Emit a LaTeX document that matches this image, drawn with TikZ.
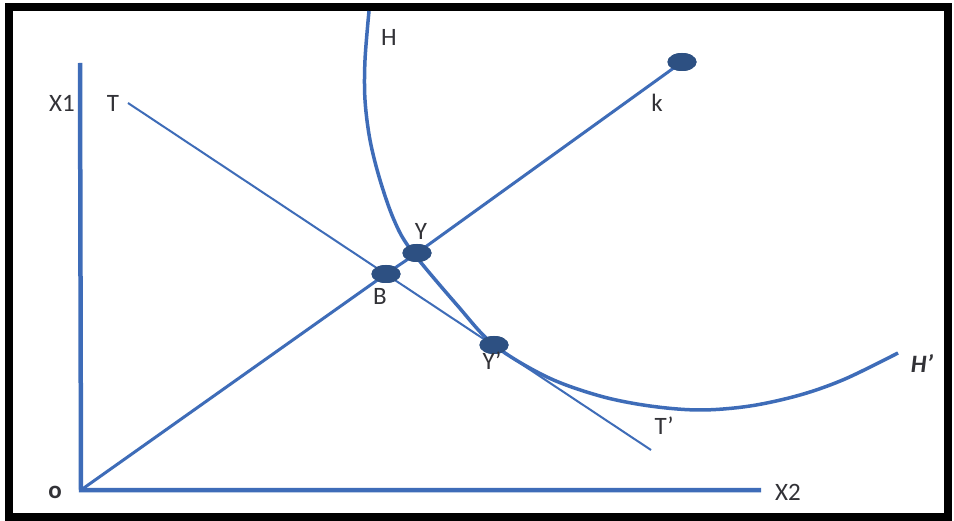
\documentclass[tikz,border=0pt]{standalone}
\usepackage{fontspec}
\setmainfont{Carlito}
\usetikzlibrary{shapes.geometric}
\definecolor{lineblue}{RGB}{62,108,184}
\definecolor{dotblue}{RGB}{45,80,130}
\definecolor{txt}{RGB}{50,50,55}
\begin{document}
\begin{tikzpicture}[x=1pt,y=-1pt,
  axis/.style={draw=lineblue,line width=4.5pt},
  ray/.style={draw=lineblue,line width=3pt},
  tline/.style={draw=lineblue,line width=2pt},
  curve/.style={draw=lineblue,line width=3.5pt},
  dot/.style={ellipse,fill=dotblue,minimum width=29pt,minimum height=18pt,inner sep=0pt},
  lbl/.style={text=txt,font=\fontsize{25}{28}\selectfont,inner sep=0pt}]
\useasboundingbox (0,0) rectangle (954,521);
\fill[black] (5,3) rectangle (952,521);
\fill[white] (13,11) rectangle (944,513);
% axes
\coordinate (O) at (81,490);
\coordinate (Ytop) at (80,63);
\coordinate (Xend) at (761,490);
\draw[axis] (Ytop) -- (O) -- (Xend);
% tangent line T--T'
\coordinate (Tstart) at (128,103);
\coordinate (Tend) at (651,450);
\draw[tline] (Tstart) -- (Tend);
% H curve
\draw[curve] plot[smooth,tension=0.55] coordinates {(369,11) (365,60) (365,100) (370,140) (380,180) (394,220) (411,250) (457,305) (494,345) (547,377) (600,396) (650,406) (700,410) (750,406) (800,395) (845,379) (898,353)};
% dots
\node[dot] (k) at (682,62) {};
\node[dot] (Y) at (417,253) {};
\node[dot] (B) at (386,274) {};
\node[dot] (Yp) at (494,345) {};
% ray
\draw[ray] (O) -- (B.center) -- (Y.center) -- (k.center);
\node[dot] at (B.center) {};
\node[dot] at (Y.center) {};
\node[dot] at (k.center) {};
\node[dot] at (Yp.center) {};
% labels
\node[lbl] (lX1) at (62,103) {X1};
\node[lbl] (lT) at (113,103) {T};
\node[lbl] (lH) at (389,37) {H};
\node[lbl] (lk) at (657,103) {k};
\node[lbl] (lY) at (421,231) {Y};
\node[lbl] (lB) at (380,296) {B};
\node[lbl] (lYp) at (492,361) {Y'};
\node[lbl] (lTp) at (664,426) {T'};
\node[lbl,font=\fontsize{25}{28}\selectfont\bfseries\itshape] (lHp) at (922,363) {H'};
\node[lbl,font=\fontsize{25}{28}\selectfont\bfseries] (lo) at (55,492) {o};
\node[lbl] (lX2) at (788,492) {X2};
\end{tikzpicture}
\end{document}
